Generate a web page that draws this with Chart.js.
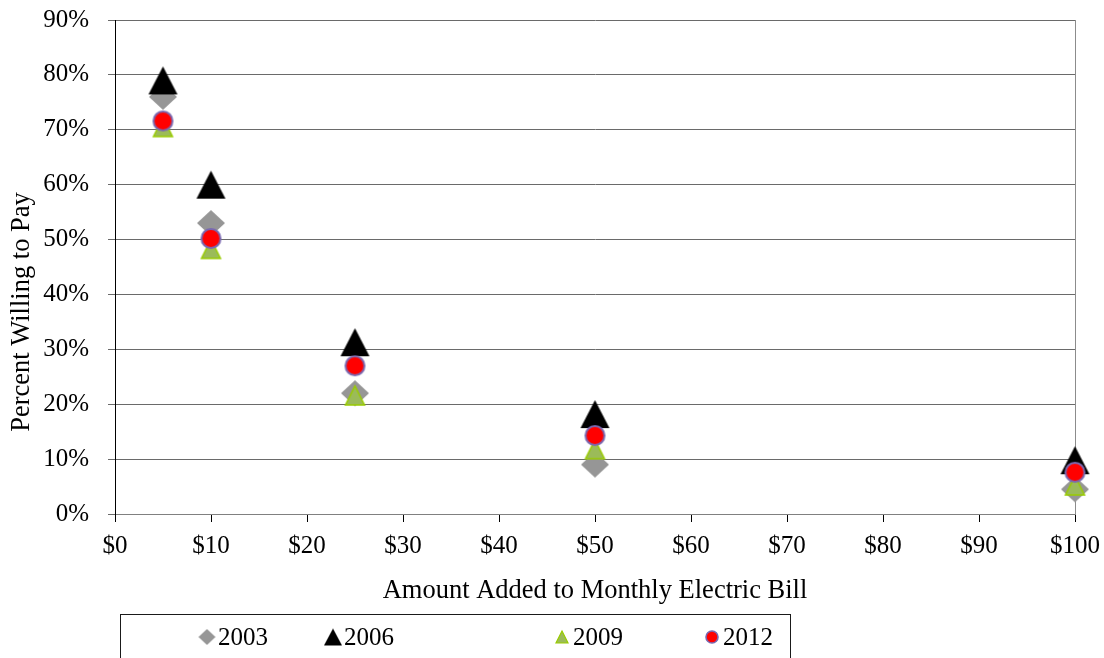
<!DOCTYPE html>
<html>
<head>
<meta charset="utf-8">
<script src="https://cdn.jsdelivr.net/npm/chart.js@4.4.0/dist/chart.umd.min.js"></script>
<style>
  html, body { margin: 0; padding: 0; background: #fff; }
  #wrap { width: 1104px; height: 658px; position: relative; }
</style>
</head>
<body>
<div id="wrap"><canvas id="c" width="1104" height="658"></canvas></div>
<script>
// ---- Data ----
const amounts = [5, 10, 25, 50, 100];
const seriesNames = ['2003', '2006', '2009', '2012'];
const v2003 = [76, 53, 22, 9, 4.5];
const v2006 = [79, 60, 31.3, 18.2, 9.8];
const v2009 = [70.5, 48.3, 21.6, 11.8, 5.2];
const v2012 = [71.6, 50.2, 27, 14.3, 7.6];
const xTicks = [0, 10, 20, 30, 40, 50, 60, 70, 80, 90, 100];
const yTicks = [0, 10, 20, 30, 40, 50, 60, 70, 80, 90];
const xTitle = 'Amount Added to Monthly Electric Bill';
const yTitle = 'Percent Willing to Pay';

const FONT = '"Liberation Serif", "Times New Roman", serif';
const FS = 25;
const TFS = 26.5;

function marker(shape, w, h, fill, stroke, lw) {
  const pad = Math.ceil(lw) + 1;
  const c = document.createElement('canvas');
  c.width = w + pad * 2; c.height = h + pad * 2;
  const g = c.getContext('2d');
  g.translate(pad, pad);
  g.beginPath();
  if (shape === 'diamond') {
    g.moveTo(w / 2, 0); g.lineTo(w, h / 2); g.lineTo(w / 2, h); g.lineTo(0, h / 2);
  } else if (shape === 'triangle') {
    g.moveTo(w / 2, 0); g.lineTo(w, h); g.lineTo(0, h);
  } else {
    g.ellipse(w / 2, h / 2, w / 2, h / 2, 0, 0, Math.PI * 2);
  }
  g.closePath();
  g.fillStyle = fill; g.fill();
  if (lw > 0) { g.lineWidth = lw; g.strokeStyle = stroke; g.stroke(); }
  return c;
}

const styles = [
  { shape: 'diamond', w: 28, h: 26, fill: '#969696', stroke: '#969696', lw: 0 },
  { shape: 'triangle', w: 29, h: 28, fill: '#000000', stroke: '#000000', lw: 0 },
  { shape: 'triangle', w: 19, h: 19, fill: '#9BBB59', stroke: '#99CC00', lw: 1.5 },
  { shape: 'circle', w: 19, h: 19, fill: '#FF0000', stroke: '#7A68B0', lw: 2 }
];
const legendScale = 0.62;
const bigMarkers = styles.map(s => marker(s.shape, s.w, s.h, s.fill, s.stroke, s.lw));
const smallMarkers = styles.map(s => marker(s.shape, Math.round(s.w * legendScale), Math.round(s.h * legendScale), s.fill, s.stroke, s.lw * 0.8));

const allValues = [v2003, v2006, v2009, v2012];
const datasets = allValues.map((vals, i) => ({
  label: seriesNames[i],
  data: amounts.map((a, j) => ({ x: a, y: vals[j] })),
  showLine: false,
  clip: false,
  pointStyle: bigMarkers[i],
  pointRadius: 10,
  pointHoverRadius: 10,
  order: 4 - i
}));

const extras = {
  id: 'extras',
  beforeDatasetsDraw(chart) {
    const ctx = chart.ctx;
    const a = chart.chartArea;
    ctx.save();
    // right border of plot area
    ctx.strokeStyle = '#8c8c8c';
    ctx.lineWidth = 1;
    ctx.beginPath();
    ctx.moveTo(a.right + 0.5, a.top);
    ctx.lineTo(a.right + 0.5, a.bottom);
    ctx.stroke();
    ctx.restore();
  },
  afterDraw(chart) {
    const ctx = chart.ctx;
    ctx.save();
    // y axis title
    ctx.fillStyle = '#000';
    ctx.font = TFS + 'px ' + FONT;
    ctx.textAlign = 'center';
    ctx.textBaseline = 'middle';
    ctx.translate(22, 312);
    ctx.rotate(-Math.PI / 2);
    ctx.fillText(yTitle, 0, 0);
    ctx.restore();

    // legend
    ctx.save();
    const lx = 120.5, ly = 614.5, lw = 670, lh = 60;
    ctx.strokeStyle = '#1a1a1a';
    ctx.lineWidth = 1;
    ctx.strokeRect(lx, ly, lw, lh);
    const centers = [207, 333, 562, 712];
    ctx.font = FS + 'px ' + FONT;
    ctx.fillStyle = '#000';
    ctx.textAlign = 'left';
    ctx.textBaseline = 'middle';
    const cy = 637;
    seriesNames.forEach((n, i) => {
      const m = smallMarkers[i];
      ctx.drawImage(m, centers[i] - m.width / 2, cy - m.height / 2);
      ctx.fillText(n, centers[i] + 11, cy + 1);
    });
    ctx.restore();
  }
};

new Chart(document.getElementById('c'), {
  type: 'scatter',
  data: { datasets },
  options: {
    responsive: false,
    animation: false,
    events: [],
    layout: { padding: { left: 0, right: 29, top: 20, bottom: 0 } },
    plugins: { legend: { display: false }, tooltip: { enabled: false } },
    scales: {
      x: {
        type: 'linear',
        min: 0, max: 100,
        afterBuildTicks(scale) { scale.ticks = xTicks.map(v => ({ value: v })); },
        afterFit(scale) { scale.height = 144; scale.paddingLeft = 0; scale.paddingRight = 0; },
        ticks: {
          color: '#000',
          font: { family: FONT, size: FS },
          padding: 9,
          maxRotation: 0,
          callback: v => '$' + v
        },
        grid: { drawOnChartArea: false, drawTicks: true, tickLength: 8, color: '#000', lineWidth: 1 },
        border: { display: true, color: '#808080', width: 1 },
        title: {
          display: true, text: xTitle, color: '#000',
          font: { family: FONT, size: TFS }, padding: { top: 0, bottom: 51 }
        }
      },
      y: {
        type: 'linear',
        min: 0, max: 90,
        afterBuildTicks(scale) { scale.ticks = yTicks.map(v => ({ value: v })); },
        afterFit(scale) { scale.width = 115; scale.paddingTop = 0; scale.paddingBottom = 0; },
        ticks: {
          color: '#000',
          font: { family: FONT, size: FS },
          padding: 19,
          callback: v => v + '%'
        },
        grid: { drawOnChartArea: true, drawTicks: true, tickLength: 7, color: '#6a6a6a', lineWidth: 1 },
        border: { display: true, color: '#000', width: 1 }
      }
    }
  },
  plugins: [extras]
});
</script>
</body>
</html>
